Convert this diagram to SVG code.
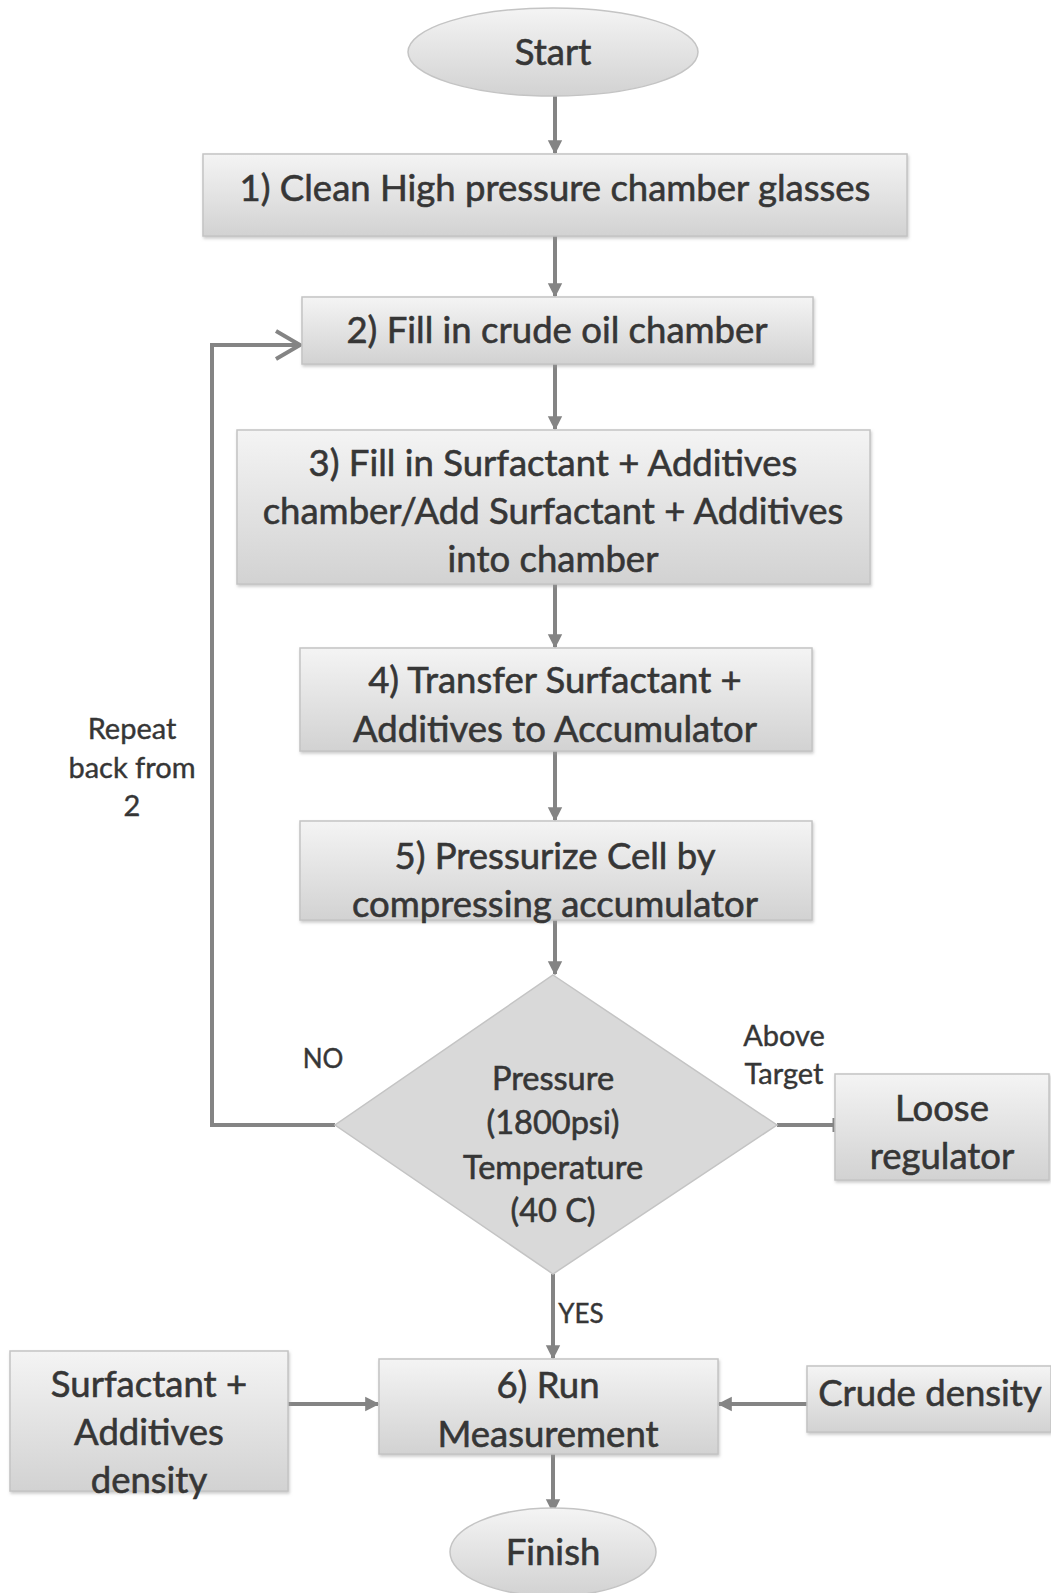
<svg xmlns="http://www.w3.org/2000/svg" width="1051" height="1593" viewBox="0 0 1051 1593">
<style>
.box{fill:url(#g);stroke:#c4c4c4;stroke-width:1.5;filter:url(#sh)}
.t{font-family:Lato,"Liberation Sans",sans-serif;fill:#363636;stroke:#363636;stroke-width:0.6;text-anchor:middle}
.b{font-size:36.5px}
.d{font-size:32.5px}
.s{font-size:29px;stroke-width:0.4}
.n{font-size:26px;stroke-width:0.4}
.c{stroke:#848484;stroke-width:4;fill:none}
</style>
<defs>
<linearGradient id="g" x1="0" y1="0" x2="0" y2="1">
<stop offset="0" stop-color="#f4f4f4"/>
<stop offset="1" stop-color="#d2d2d2"/>
</linearGradient>
<filter id="sh" x="-5%" y="-5%" width="110%" height="120%">
<feDropShadow dx="1" dy="2" stdDeviation="1.5" flood-color="#999" flood-opacity="0.5"/>
</filter>
<marker id="a" markerWidth="4" markerHeight="4" refX="3.2" refY="2" orient="auto" markerUnits="strokeWidth">
<path d="M0,0.2 L3.6,2 L0,3.8 Z" fill="#848484"/>
</marker>
<marker id="o" markerWidth="8" markerHeight="8" refX="7" refY="4" orient="auto" markerUnits="strokeWidth">
<path d="M1,0.5 L7,4 L1,7.5" fill="none" stroke="#848484" stroke-width="1"/>
</marker>
</defs>
<rect width="1051" height="1593" fill="#ffffff"/>
<g id="connectors">
<line class="c" x1="555" y1="96" x2="555" y2="153" marker-end="url(#a)"/>
<line class="c" x1="555" y1="236" x2="555" y2="296" marker-end="url(#a)"/>
<line class="c" x1="555" y1="364" x2="555" y2="429" marker-end="url(#a)"/>
<line class="c" x1="555" y1="584" x2="555" y2="647" marker-end="url(#a)"/>
<line class="c" x1="555" y1="751" x2="555" y2="820" marker-end="url(#a)"/>
<line class="c" x1="555" y1="920" x2="555" y2="974" marker-end="url(#a)"/>
<polyline class="c" points="335,1125 212,1125 212,345 300,345" marker-end="url(#o)"/>
<line class="c" x1="777" y1="1125" x2="834" y2="1125"/>
<line x1="834" y1="1118" x2="834" y2="1132" stroke="#848484" stroke-width="3"/>
<line class="c" x1="553" y1="1274" x2="553" y2="1358" marker-end="url(#a)"/>
<line class="c" x1="288" y1="1404" x2="378" y2="1404" marker-end="url(#a)"/>
<line class="c" x1="807" y1="1404" x2="719" y2="1404" marker-end="url(#a)"/>
<line class="c" x1="553" y1="1454" x2="553" y2="1512" marker-end="url(#a)"/>
</g>
<g id="start">
<ellipse cx="553" cy="52" rx="145" ry="44" fill="url(#g)" stroke="#c4c4c4" stroke-width="1.5"/>
<text class="t b" x="553" y="65">Start</text>
</g>
<g id="step1">
<rect class="box" x="203" y="154" width="704" height="82"/>
<text class="t b" x="555" y="201">1) Clean High pressure chamber glasses</text>
</g>
<g id="step2">
<rect class="box" x="302" y="297" width="511" height="67"/>
<text class="t b" x="557" y="343">2) Fill in crude oil chamber</text>
</g>
<g id="step3">
<rect class="box" x="237" y="430" width="633" height="154"/>
<text class="t b" x="553" y="476">3) Fill in Surfactant + Additives</text>
<text class="t b" x="553" y="524">chamber/Add Surfactant + Additives</text>
<text class="t b" x="553" y="572">into chamber</text>
</g>
<g id="step4">
<rect class="box" x="300" y="648" width="512" height="103"/>
<text class="t b" x="555" y="693">4) Transfer Surfactant +</text>
<text class="t b" x="555" y="742">Additives to Accumulator</text>
</g>
<g id="step5">
<rect class="box" x="300" y="821" width="512" height="99"/>
<text class="t b" x="555" y="869">5) Pressurize Cell by</text>
<text class="t b" x="555" y="917">compressing accumulator</text>
</g>
<g id="decision">
<polygon points="553,975 777,1125 553,1274 335,1125" fill="#d9d9d9" stroke="#c4c4c4" stroke-width="1.5"/>
<text class="t d" x="553" y="1090">Pressure</text>
<text class="t d" x="553" y="1134">(1800psi)</text>
<text class="t d" x="553" y="1179">Temperature</text>
<text class="t d" x="553" y="1222">(40 C)</text>
</g>
<g id="loose">
<rect class="box" x="835" y="1074" width="214" height="106"/>
<text class="t b" x="942" y="1121">Loose</text>
<text class="t b" x="942" y="1169">regulator</text>
</g>
<g id="labels">
<text class="t n" x="323" y="1068">NO</text>
<text class="t s" x="784" y="1046">Above</text>
<text class="t s" x="784" y="1084">Target</text>
<text class="t n" x="581" y="1323">YES</text>
<text class="t s" x="132" y="739">Repeat</text>
<text class="t s" x="132" y="778">back from</text>
<text class="t s" x="132" y="816">2</text>
</g>
<g id="step6">
<rect class="box" x="379" y="1359" width="339" height="95"/>
<text class="t b" x="548" y="1398">6) Run</text>
<text class="t b" x="548" y="1447">Measurement</text>
</g>
<g id="surf">
<rect class="box" x="10" y="1351" width="278" height="140"/>
<text class="t b" x="149" y="1397">Surfactant +</text>
<text class="t b" x="149" y="1445">Additives</text>
<text class="t b" x="149" y="1493">density</text>
</g>
<g id="crude">
<rect class="box" x="807" y="1366" width="244" height="66"/>
<text class="t b" x="930" y="1406">Crude density</text>
</g>
<g id="finish">
<ellipse cx="553" cy="1552" rx="103" ry="44" fill="url(#g)" stroke="#c4c4c4" stroke-width="1.5"/>
<text class="t b" x="553" y="1565">Finish</text>
</g>
</svg>
